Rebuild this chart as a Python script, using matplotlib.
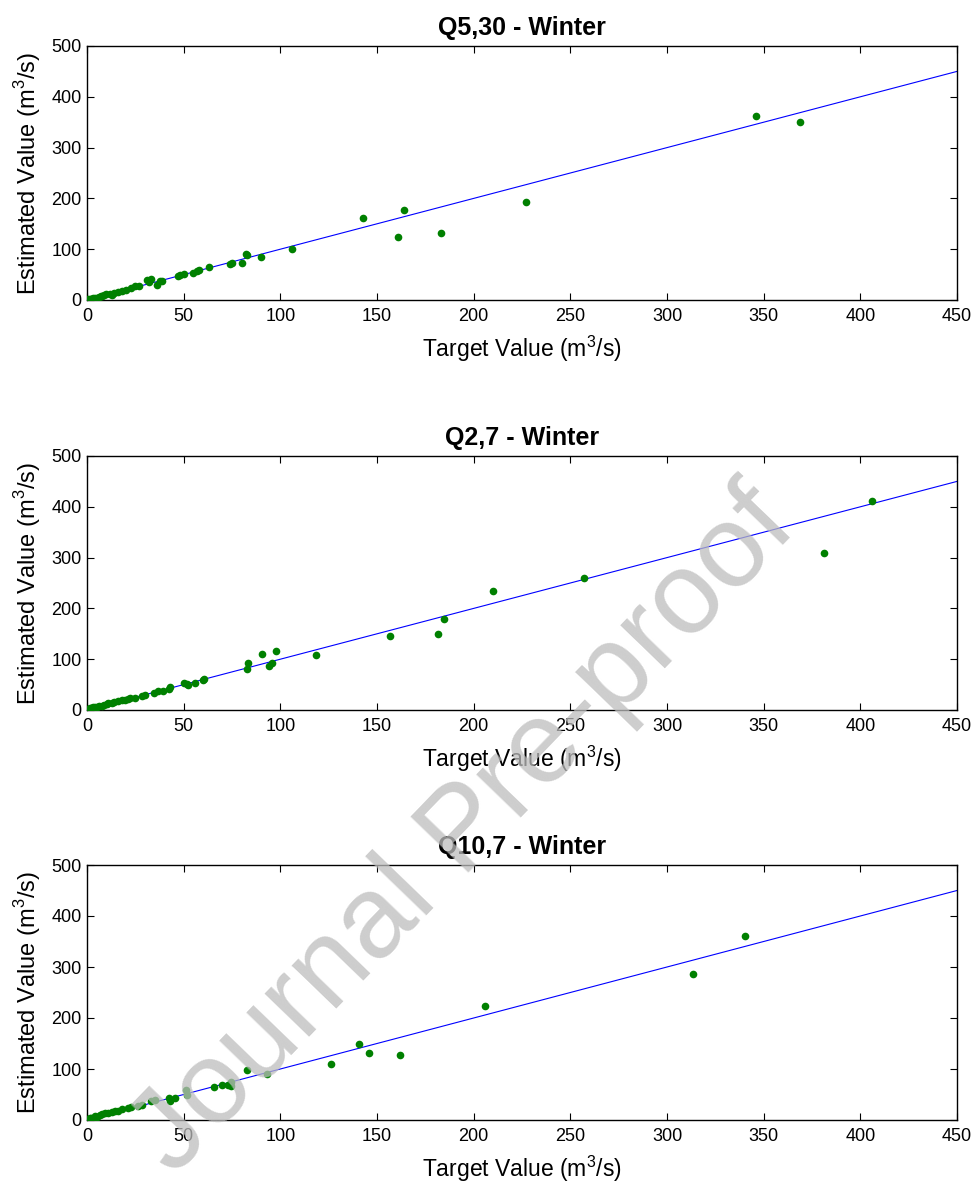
import matplotlib
matplotlib.use("Agg")
import matplotlib.pyplot as plt
import numpy as np

plt.rcParams['font.family'] = ['Liberation Sans', 'DejaVu Sans']
plt.rcParams['mathtext.fontset'] = 'custom'
plt.rcParams['mathtext.rm'] = 'Liberation Sans'

titles = ["Q5,30 - Winter", "Q2,7 - Winter", "Q10,7 - Winter"]

# Panel 1: Q5,30
p1_target = [0.5, 1, 1.5, 2, 3, 4, 5, 6, 7, 8, 9, 10, 12, 13, 14, 16, 18, 20,
             23, 25, 27, 31, 32, 33, 36, 38, 39, 47, 48, 50, 55, 57, 58, 63,
             74, 75, 80, 82, 83, 90, 106, 143, 161, 164, 183, 227, 346, 369]
p1_est = [1, 0.5, 2, 1.5, 3, 4, 4, 6, 8, 7, 10, 11, 12, 10, 13, 15, 18, 19,
          24, 28, 27, 39, 35, 41, 29, 37, 38, 48, 49, 51, 53, 57, 60, 65,
          71, 72, 72, 90, 89, 84, 100, 162, 125, 177, 131, 192, 362, 350]

# Panel 2: Q2,7
p2_target = [0.5, 1, 1.6, 2, 3, 4.1, 5, 6, 7.6, 9, 10.2, 11, 12.8, 14, 16.2,
             17.9, 19.7, 21.4, 22, 24.8, 28.3, 30, 34.8, 36.9, 39.5, 42.6, 43,
             50.3, 51.6, 52.5, 55.9, 59.8, 60.5, 82.6, 83.3, 90.3, 94.1, 95.9,
             97.6, 118.6, 156.5, 181.8, 184.5, 210, 257, 381, 405.8]
p2_est = [2, 1, 4, 3, 5, 6, 5, 7, 8, 10, 12, 14, 13, 15, 17,
          20, 20, 22, 24, 23, 28, 30, 33, 37, 38, 41, 45,
          53, 52, 50, 53, 59, 61, 80, 93, 111, 87, 93,
          117, 108, 146, 150, 180, 234, 259, 310, 412]

# Panel 3: Q10,7
p3_target = [0.5, 1, 1.6, 2, 3, 4.1, 5, 6.7, 8, 9.5, 11, 12.8, 14.5, 16, 18.1,
             21.4, 22.8, 26.4, 28.5, 33.3, 35, 42.3, 42.7, 45.4, 51, 51.8,
             65.6, 70, 73, 74.3, 74.6, 82.6, 93.1, 126, 140.6, 146, 161.9,
             205.7, 313.3, 340.6]
p3_est = [1, 2, 4, 3, 4, 8, 6, 10, 11, 13, 13, 16, 17, 18, 21,
          23, 25, 27, 30, 37, 39, 43, 37, 43, 58, 50,
          64, 69, 69, 66, 74, 99, 91, 109, 149, 131, 128,
          224, 287, 360]

targets = [p1_target, p2_target, p3_target]
estimates = [p1_est, p2_est, p3_est]

ref_line = [0, 450]
x_ticks = [0, 50, 100, 150, 200, 250, 300, 350, 400, 450]
y_ticks = [0, 100, 200, 300, 400, 500]

W, H = 978, 1189
fig = plt.figure(figsize=(W / 100, H / 100), dpi=100)

# (top, bottom) pixel bounds for each axes
bounds = [(46, 300), (456, 710), (865, 1120)]
left_px, right_px = 87, 957

for i, (top, bot) in enumerate(bounds):
    ax = fig.add_axes([left_px / W, (H - bot) / H, (right_px - left_px) / W, (bot - top) / H])
    ax.plot(ref_line, ref_line, color='#0000ff', lw=0.8, zorder=2)
    ax.plot(targets[i], estimates[i], 'o', color='#008000', markersize=5.5,
            markeredgewidth=0, zorder=3)
    ax.set_xlim(0, 450)
    ax.set_ylim(0, 500)
    ax.set_xticks(x_ticks)
    ax.set_yticks(y_ticks)
    ax.tick_params(direction='in', top=True, right=True, length=5, width=0.8,
                   labelsize=13, colors='black')
    ax.tick_params(axis='x', pad=6)
    ax.tick_params(axis='y', pad=4)
    for s in ax.spines.values():
        s.set_linewidth(1.0)
    ax.set_title(titles[i], fontsize=18, fontweight='bold', pad=8)
    ax.set_xlabel('Target Value (m$^3$/s)', fontsize=16.5, labelpad=6)
    ax.set_ylabel('Estimated Value (m$^3$/s)', fontsize=17, labelpad=6)

fig.text(0.475, 0.30, 'Journal Pre-proof', fontsize=84, color='#bdbdbd', alpha=0.75,
         rotation=46, ha='center', va='center', zorder=10)

fig.savefig('out.png', dpi=100)
